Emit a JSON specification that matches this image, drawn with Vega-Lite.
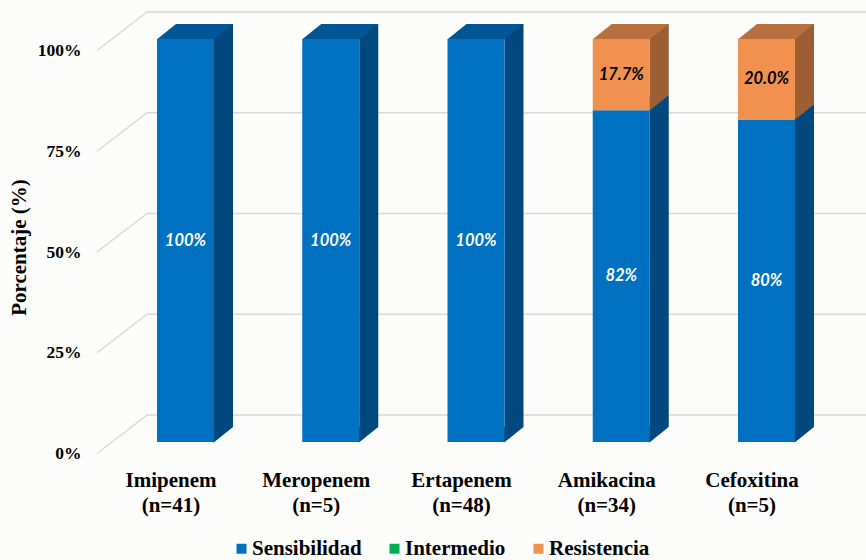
{
  "$schema": "https://vega.github.io/schema/vega-lite/v6.json",
  "width": 719,
  "height": 403,
  "autosize": {"type": "none"},
  "padding": {"left": 147, "top": 39, "right": 0, "bottom": 118},
  "background": "#fcfcfb",
  "config": {
    "view": {"stroke": null},
    "axisX": {
      "domain": false, "ticks": false, "grid": false,
      "labelFont": "Liberation Serif", "labelFontWeight": "bold", "labelFontSize": 21,
      "labelColor": "#000000", "labelPadding": 27, "labelOffset": -14.5,
      "labelLineHeight": 25, "labelAngle": 0,
      "labelExpr": "split(datum.label, ' ')"
    },
    "axisY": {
      "domain": false, "ticks": false, "grid": false,
      "labelExpr": "datum.value + '%'",
      "labelFont": "Liberation Serif", "labelFontWeight": "bold", "labelFontSize": 17.5,
      "labelColor": "#000000", "labelPadding": 66, "labelOffset": 11.5,
      "titleFont": "Liberation Serif", "titleFontWeight": "bold", "titleFontSize": 21,
      "titleColor": "#000000", "titleAngle": 270, "titleX": -128, "titleY": 208,
      "titleAlign": "center", "titleBaseline": "middle"
    }
  },
  "datasets": {
    "resultados": [
      {"antibiotico": "Imipenem (n=41)", "categoria": "Sensibilidad", "valor": 100},
      {"antibiotico": "Imipenem (n=41)", "categoria": "Intermedio", "valor": 0},
      {"antibiotico": "Imipenem (n=41)", "categoria": "Resistencia", "valor": 0},
      {"antibiotico": "Meropenem (n=5)", "categoria": "Sensibilidad", "valor": 100},
      {"antibiotico": "Meropenem (n=5)", "categoria": "Intermedio", "valor": 0},
      {"antibiotico": "Meropenem (n=5)", "categoria": "Resistencia", "valor": 0},
      {"antibiotico": "Ertapenem (n=48)", "categoria": "Sensibilidad", "valor": 100},
      {"antibiotico": "Ertapenem (n=48)", "categoria": "Intermedio", "valor": 0},
      {"antibiotico": "Ertapenem (n=48)", "categoria": "Resistencia", "valor": 0},
      {"antibiotico": "Amikacina (n=34)", "categoria": "Sensibilidad", "valor": 82.3},
      {"antibiotico": "Amikacina (n=34)", "categoria": "Intermedio", "valor": 0},
      {"antibiotico": "Amikacina (n=34)", "categoria": "Resistencia", "valor": 17.7},
      {"antibiotico": "Cefoxitina (n=5)", "categoria": "Sensibilidad", "valor": 80},
      {"antibiotico": "Cefoxitina (n=5)", "categoria": "Intermedio", "valor": 0},
      {"antibiotico": "Cefoxitina (n=5)", "categoria": "Resistencia", "valor": 20}
    ],
    "rejilla": [{"p": 0}, {"p": 25}, {"p": 50}, {"p": 75}, {"p": 100}]
  },
  "resolve": {"scale": {"color": "independent"}},
  "layer": [
    {
      "data": {"name": "rejilla"},
      "mark": {"type": "rule", "yOffset": -27, "color": "#d9d9d9", "strokeWidth": 1.5},
      "encoding": {
        "y": {"field": "p", "type": "quantitative", "scale": {"domain": [0, 100], "nice": false}, "title": "Porcentaje (%)", "axis": {"values": [0, 25, 50, 75, 100]}}
      }
    },
    {
      "data": {"name": "rejilla"},
      "mark": {"type": "rule", "yOffset": 11.5, "y2Offset": -27, "color": "#d9d9d9", "strokeWidth": 1.5},
      "encoding": {
        "x": {"value": -50},
        "x2": {"value": 0},
        "y": {"field": "p", "type": "quantitative", "title": "Porcentaje (%)"},
        "y2": {"field": "p"}
      }
    },
    {
      "data": {"name": "resultados"},
      "transform": [
        {"calculate": "indexof(['Sensibilidad', 'Intermedio', 'Resistencia'], datum.categoria)", "as": "orden"},
        {"stack": "valor", "groupby": ["antibiotico"], "sort": [{"field": "orden", "order": "ascending"}], "as": ["lo", "hi"]},
        {"filter": "datum.valor > 0"}
      ],
      "mark": {"type": "bar", "width": 19, "xOffset": 38, "yOffset": -15, "y2Offset": -15},
      "encoding": {
        "x": {"field": "antibiotico", "type": "nominal", "sort": null, "title": null, "scale": {"range": [-34.125, 692.125], "paddingInner": 0, "paddingOuter": 0}},
        "y": {"field": "lo", "type": "quantitative", "title": "Porcentaje (%)"},
        "y2": {"field": "hi"},
        "color": {"field": "categoria", "type": "nominal", "legend": null,
          "scale": {"domain": ["Sensibilidad", "Intermedio", "Resistencia"], "range": ["#00487e", "#007034", "#9c5e32"]}}
      }
    },
    {
      "data": {"name": "resultados"},
      "transform": [
        {"calculate": "indexof(['Sensibilidad', 'Intermedio', 'Resistencia'], datum.categoria)", "as": "orden"},
        {"stack": "valor", "groupby": ["antibiotico"], "sort": [{"field": "orden", "order": "ascending"}], "as": ["lo", "hi"]},
        {"filter": "datum.valor > 0"}
      ],
      "mark": {"type": "point", "shape": "M0.55,-0.305L0.55,0.005L0.57,0.005L0.955,-0.305Z", "size": 10000, "filled": true, "opacity": 1, "strokeWidth": 0},
      "encoding": {
        "x": {"field": "antibiotico", "type": "nominal", "sort": null, "title": null},
        "y": {"field": "lo", "type": "quantitative", "title": "Porcentaje (%)"},
        "color": {"field": "categoria", "type": "nominal", "legend": null,
          "scale": {"domain": ["Sensibilidad", "Intermedio", "Resistencia"], "range": ["#00487e", "#007034", "#9c5e32"]}}
      }
    },
    {
      "data": {"name": "resultados"},
      "transform": [
        {"calculate": "indexof(['Sensibilidad', 'Intermedio', 'Resistencia'], datum.categoria)", "as": "orden"},
        {"stack": "valor", "groupby": ["antibiotico"], "sort": [{"field": "orden", "order": "ascending"}], "as": ["lo", "hi"]},
        {"filter": "datum.valor > 0 && datum.hi > 99.9"}
      ],
      "mark": {"type": "point", "shape": "M-0.57,0.005L0.57,0.005L0.95,-0.3L-0.19,-0.3Z", "size": 10000, "filled": true, "opacity": 1, "strokeWidth": 0},
      "encoding": {
        "x": {"field": "antibiotico", "type": "nominal", "sort": null, "title": null},
        "y": {"field": "hi", "type": "quantitative", "title": "Porcentaje (%)"},
        "color": {"field": "categoria", "type": "nominal", "legend": null,
          "scale": {"domain": ["Sensibilidad", "Intermedio", "Resistencia"], "range": ["#005594", "#008540", "#b8703e"]}}
      }
    },
    {
      "data": {"name": "resultados"},
      "transform": [
        {"calculate": "indexof(['Sensibilidad', 'Intermedio', 'Resistencia'], datum.categoria)", "as": "orden"},
        {"stack": "valor", "groupby": ["antibiotico"], "sort": [{"field": "orden", "order": "ascending"}], "as": ["lo", "hi"]},
        {"filter": "datum.valor > 0"}
      ],
      "mark": {"type": "bar", "width": 57},
      "encoding": {
        "x": {"field": "antibiotico", "type": "nominal", "sort": null, "title": null},
        "y": {"field": "lo", "type": "quantitative", "title": "Porcentaje (%)"},
        "y2": {"field": "hi"},
        "color": {"field": "categoria", "type": "nominal",
          "scale": {"domain": ["Sensibilidad", "Intermedio", "Resistencia"], "range": ["#0070c0", "#00b050", "#f0914f"]},
          "legend": {
            "title": null, "orient": "none", "legendX": 84, "legendY": 499, "direction": "horizontal",
            "symbolType": "square", "symbolSize": 100, "symbolStrokeWidth": 0, "symbolOpacity": 1,
            "labelFont": "Liberation Serif", "labelFontWeight": "bold", "labelFontSize": 21,
            "labelColor": "#000000", "labelOffset": 0, "columnPadding": 22, "padding": 0
          }}
      }
    },
    {
      "data": {"name": "resultados"},
      "transform": [
        {"calculate": "indexof(['Sensibilidad', 'Intermedio', 'Resistencia'], datum.categoria)", "as": "orden"},
        {"stack": "valor", "groupby": ["antibiotico"], "sort": [{"field": "orden", "order": "ascending"}], "as": ["lo", "hi"]},
        {"filter": "datum.valor > 0"},
        {"calculate": "(datum.lo + datum.hi) / 2", "as": "centro"},
        {"calculate": "datum.categoria === 'Resistencia' ? format(datum.valor, '.1f') + '%' : format(datum.valor, '.0f') + '%'", "as": "etiqueta"}
      ],
      "mark": {"type": "text", "font": "Lato", "fontStyle": "italic", "fontWeight": "bold", "fontSize": 16.5, "baseline": "middle"},
      "encoding": {
        "x": {"field": "antibiotico", "type": "nominal", "sort": null, "title": null},
        "y": {"field": "centro", "type": "quantitative", "title": "Porcentaje (%)"},
        "text": {"field": "etiqueta"},
        "color": {"condition": {"test": "datum.categoria === 'Resistencia'", "value": "#000000"}, "value": "#ffffff"}
      }
    }
  ]
}
